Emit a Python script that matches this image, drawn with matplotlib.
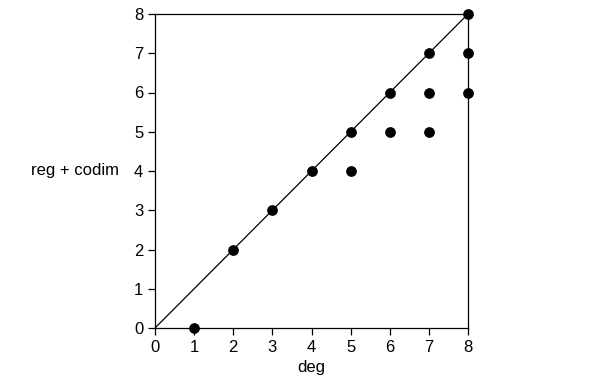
import matplotlib
matplotlib.use('Agg')
import matplotlib.pyplot as plt

# data points (deg, reg + codim)
deg = [1, 2, 3, 4, 5, 5, 6, 6, 7, 7, 7, 8, 8, 8]
reg_codim = [0, 2, 3, 4, 5, 4, 6, 5, 7, 6, 5, 8, 7, 6]
ticks = [0, 1, 2, 3, 4, 5, 6, 7, 8]

plt.rcParams['font.family'] = 'Liberation Sans'
fig = plt.figure(figsize=(6.0, 3.87), dpi=100)
ax = fig.add_axes([155/600, 1 - 328/387, 313/600, 314/387])

ax.plot([0, 8], [0, 8], color='black', linewidth=0.9, zorder=2)
ax.scatter(deg, reg_codim, s=45, color='black', zorder=3, clip_on=False)

ax.set_xlim(0, 8)
ax.set_ylim(0, 8)
ax.set_xticks(ticks)
ax.set_yticks(ticks)
ax.tick_params(direction='out', length=5, width=0.9, labelsize=12, colors='black')
for sp in ax.spines.values():
    sp.set_linewidth(0.9)

ax.set_xlabel('deg', fontsize=12)
ax.set_ylabel('reg + codim', fontsize=12, rotation=0, ha='center', va='center')
ax.yaxis.set_label_coords(-0.255, 0.5)

fig.savefig('out.png', dpi=100)
